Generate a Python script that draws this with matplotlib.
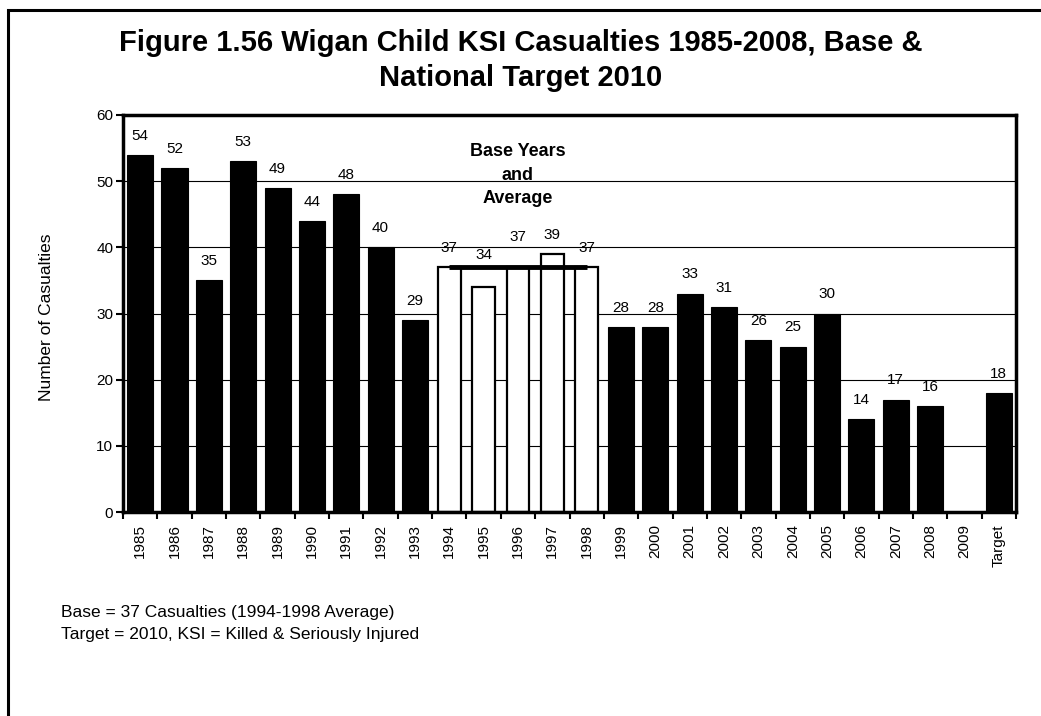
import numpy as np
import matplotlib
matplotlib.use("Agg")
import matplotlib.pyplot as plt
from matplotlib.patches import Rectangle
from matplotlib.ticker import FixedLocator, NullFormatter

plt.rcParams["font.family"] = ["Liberation Sans", "DejaVu Sans"]

categories = [str(y) for y in range(1985, 2010)] + ["Target"]
casualties = [54, 52, 35, 53, 49, 44, 48, 40, 29, 37, 34, 37, 39, 37,
              28, 28, 33, 31, 26, 25, 30, 14, 17, 16, np.nan, 18]
base_years = ["1994", "1995", "1996", "1997", "1998"]
base_value = 37
# extra lift on a few labels so they do not collide (as in the original)
label_lift = {"1995": 1.9, "1996": 1.7}

fig = plt.figure(figsize=(10.41, 7.16), dpi=100)
ax = fig.add_axes([123 / 1041, 1 - 512 / 716, (1016 - 123) / 1041, (512 - 115) / 716])

x = np.arange(len(categories))
vals = np.array(casualties, dtype=float)
is_base = np.array([c in base_years for c in categories])

ax.bar(x[~is_base], np.nan_to_num(vals[~is_base]), width=0.76,
       color="black", edgecolor="black", linewidth=0.8, zorder=2)
ax.bar(x[is_base], vals[is_base], width=0.66,
       color="white", edgecolor="black", linewidth=1.6, zorder=2)

base_idx = x[is_base]
ax.hlines(base_value, base_idx.min(), base_idx.max(), color="black",
          linewidth=3.5, zorder=3)

for xi, cat, v in zip(x, categories, vals):
    if np.isnan(v):
        continue
    ax.text(xi, v + 2.9 + label_lift.get(cat, 0), f"{v:.0f}", ha="center",
            va="center", fontsize=11, zorder=4)

ax.text(base_idx.mean(), 50.9, "Base Years\nand\nAverage", ha="center",
        va="center", fontsize=13, fontweight="bold", linespacing=1.5)

ax.set_xlim(-0.5, len(categories) - 0.5)
ax.set_ylim(0, 60)
ax.set_yticks(range(0, 61, 10))
ax.yaxis.grid(True, color="black", linewidth=0.8)
ax.set_axisbelow(True)

ax.set_xticks(x)
ax.set_xticklabels(categories, rotation=90, fontsize=11)
ax.xaxis.set_minor_locator(FixedLocator(np.arange(-0.5, len(categories), 1.0)))
ax.xaxis.set_minor_formatter(NullFormatter())
ax.tick_params(axis="x", which="major", length=0, pad=9)
ax.tick_params(axis="x", which="minor", length=5, width=1.5, direction="out")
ax.tick_params(axis="y", length=5, width=1.5, direction="out", pad=2, labelsize=11)

for side in ["left", "right", "top", "bottom"]:
    ax.spines[side].set_linewidth(2.5)

fig.text(47 / 1041, 1 - 317 / 716, "Number of Casualties", rotation=90,
         ha="center", va="center", fontsize=12.5)

fig.text(0.5, 1 - 43 / 716, "Figure 1.56 Wigan Child KSI Casualties 1985-2008, Base &",
         ha="center", va="center", fontsize=21, fontweight="bold")
fig.text(0.5, 1 - 78 / 716, "National Target 2010",
         ha="center", va="center", fontsize=21, fontweight="bold")

fig.text(61 / 1041, 1 - 613 / 716, "Base = 37 Casualties (1994-1998 Average)",
         ha="left", va="center", fontsize=12.5)
fig.text(61 / 1041, 1 - 635 / 716, "Target = 2010, KSI = Killed & Seriously Injured",
         ha="left", va="center", fontsize=12.5)

fig.patches.append(Rectangle((8 / 1041, -0.2), 1.5, 1.2 - 10 / 716,
                             transform=fig.transFigure, fill=False,
                             edgecolor="black", linewidth=2.2))

fig.savefig("out.png", dpi=100)
